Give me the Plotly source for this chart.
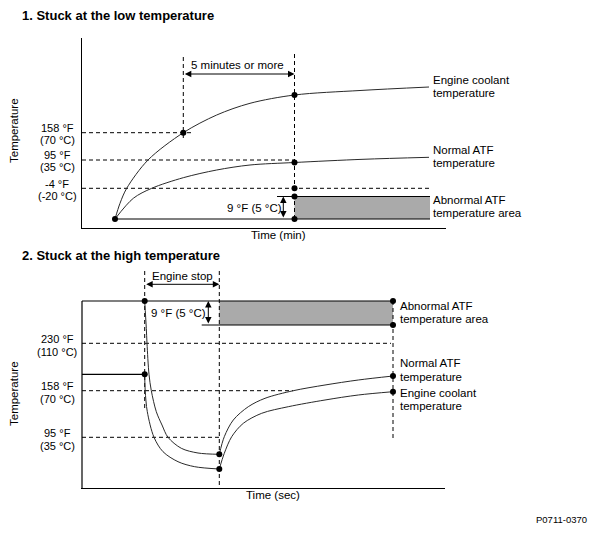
import plotly.graph_objects as go

W, H = 597, 537
FONT = "Liberation Sans, Arial, sans-serif"

# ================= Panel 1: Stuck at the low temperature =================
# diagram units: time (x) and temperature level (y)
p1_coolant_t = [3.3, 3.8, 4.47, 6.6, 10.13, 13.47, 16.8, 21.25, 27.8, 34.7]
p1_coolant_v = [0.9, 2.47, 3.97, 6.8, 9.53, 11.3, 12.47, 13.3, 13.75, 14.1]
p1_atf_t = [3.3, 5.13, 6.97, 10.13, 13.47, 16.8, 21.25, 28.1, 34.7]
p1_atf_v = [0.9, 2.97, 3.97, 5.03, 5.8, 6.3, 6.55, 6.87, 7.07]
p1_ref_levels = [9.53, 6.8, 3.97]
p1_ref_ends = [11.0, 21.25, 34.8]
p1_ref_f = ["158 °F", "95 °F", "-4 °F"]
p1_ref_c = ["(70 °C)", "(35 °C)", "(-20 °C)"]
p1_start_t, p1_base = 3.3, 0.9
p1_t70, p1_t_check, p1_t_end = 10.13, 21.25, 34.8
p1_abn_low, p1_abn_high = 0.9, 3.15
p1_top = 17.4
p1_points_t = [3.3, 10.13, 21.25, 21.25, 21.25, 21.25, 21.25]
p1_points_v = [0.9, 9.53, 13.3, 6.55, 3.97, 3.15, 0.9]

# ================= Panel 2: Stuck at the high temperature =================
p2_atf_drop_t = [6.27, 6.43, 6.5, 6.7, 6.93, 7.43, 8.0, 8.6, 9.93, 11.6, 13.73]
p2_atf_drop_v = [18.7, 15.97, 14.47, 11.37, 9.73, 7.63, 6.3, 5.07, 3.97, 3.5, 3.37]
p2_cool_drop_t = [6.27, 6.32, 6.53, 7.2, 8.1, 9.6, 11.27, 13.73]
p2_cool_drop_v = [11.37, 9.73, 7.63, 5.07, 3.63, 2.63, 2.13, 1.9]
p2_atf_rise_t = [13.73, 14.23, 15.13, 16.63, 18.3, 21.13, 24.3, 27.63, 31.1]
p2_atf_rise_v = [3.37, 5.13, 6.8, 8.13, 8.97, 9.73, 10.3, 10.8, 11.2]
p2_cool_rise_t = [13.73, 14.23, 14.97, 16.13, 17.97, 20.63, 24.3, 27.63, 31.1]
p2_cool_rise_v = [1.9, 3.47, 5.13, 6.47, 7.47, 8.13, 8.8, 9.3, 9.63]
p2_ref_levels = [14.47, 9.73, 5.07]
p2_ref_ends = [30.9, 21.13, 13.73]
p2_ref_f = ["230 °F", "158 °F", "95 °F"]
p2_ref_c = ["(110 °C)", "(70 °C)", "(35 °C)"]
p2_stop_t, p2_restart_t, p2_end_t = 6.27, 13.73, 31.1
p2_top, p2_abn_low, p2_abn_edge = 18.7, 16.3, 11.97
p2_init_level = 11.37
p2_points_t = [6.27, 6.27, 13.73, 13.73, 31.1, 31.1, 31.1, 31.1]
p2_points_v = [18.7, 11.37, 3.37, 1.9, 18.7, 16.3, 11.2, 9.63]

# axis placement (pixels) and ranges
AX = {
    "": dict(x0=82, x1=446, xr=(0, 36.4), ytop=38, ybot=228, yr=(0, 19)),
    "2": dict(x0=81, x1=445, xr=(-0.1, 36.3), ytop=270, ybot=488, yr=(0, 21.8)),
}


def to_paper(ax, x, y):
    a = AX[ax]
    px = a["x0"] + (x - a["xr"][0]) / (a["xr"][1] - a["xr"][0]) * (a["x1"] - a["x0"])
    py = a["ybot"] - (y - a["yr"][0]) / (a["yr"][1] - a["yr"][0]) * (a["ybot"] - a["ytop"])
    return px / W, 1 - py / H


fig = go.Figure()


def add_lines(xs, ys, ax, dash=None, width=1.0, color="black", shape="linear"):
    fig.add_trace(go.Scatter(
        x=xs, y=ys, xaxis="x" + ax, yaxis="y" + ax, mode="lines",
        line=dict(color=color, width=width, dash=dash, shape=shape, smoothing=0.9),
        hoverinfo="skip", showlegend=False))


def add_box(x0, x1, y0, y1, ax):
    fig.add_trace(go.Scatter(
        x=[x0, x1, x1, x0, x0], y=[y0, y0, y1, y1, y0],
        xaxis="x" + ax, yaxis="y" + ax, mode="lines", fill="toself",
        fillcolor="#aaaaaa", line=dict(width=0, color="#aaaaaa"),
        hoverinfo="skip", showlegend=False))


def join(pairs):
    xs, ys = [], []
    for px, py in pairs:
        xs += list(px) + [None]
        ys += list(py) + [None]
    return xs, ys


DASH = "4px,3px"
CURVE = "#2a2a2a"

# ---------- panel 1 ----------
add_box(p1_t_check, p1_t_end, p1_abn_low, p1_abn_high, "")
xs, ys = join([([0, e], [lv, lv]) for lv, e in zip(p1_ref_levels, p1_ref_ends)] +
              [([p1_t_check, p1_t_check], [p1_base, p1_top]),
               ([p1_t70, p1_t70], [9.0, p1_top])])
add_lines(xs, ys, "", dash=DASH, width=1)
xs, ys = join([([p1_start_t, p1_t_end], [p1_base, p1_base]),
               ([19.5, p1_t_end], [p1_abn_high, p1_abn_high])])
add_lines(xs, ys, "", width=1.2)
add_lines(p1_coolant_t, p1_coolant_v, "", width=1, color=CURVE, shape="spline")
add_lines(p1_atf_t, p1_atf_v, "", width=1, color=CURVE, shape="spline")
fig.add_trace(go.Scatter(x=p1_points_t, y=p1_points_v, xaxis="x", yaxis="y",
                         mode="markers", marker=dict(color="black", size=6),
                         hoverinfo="skip", showlegend=False))

# ---------- panel 2 ----------
add_box(p2_restart_t, p2_end_t, p2_abn_low, p2_top, "2")
xs, ys = join([([0, e], [lv, lv]) for lv, e in zip(p2_ref_levels, p2_ref_ends)] +
              [([p2_stop_t, p2_stop_t], [21.7, 8.0]),
               ([p2_restart_t, p2_restart_t], [21.7, 0]),
               ([p2_end_t, p2_end_t], [p2_top, 4.8])])
add_lines(xs, ys, "2", dash=DASH, width=1)
xs, ys = join([([0, 0], [0, p2_top]),
               ([0, p2_end_t], [p2_top, p2_top]),
               ([p2_abn_edge, p2_end_t], [p2_abn_low, p2_abn_low]),
               ([0, p2_stop_t], [p2_init_level, p2_init_level])])
add_lines(xs, ys, "2", width=1.2)
for t, v in [(p2_atf_drop_t, p2_atf_drop_v), (p2_cool_drop_t, p2_cool_drop_v),
             (p2_atf_rise_t, p2_atf_rise_v), (p2_cool_rise_t, p2_cool_rise_v)]:
    add_lines(t, v, "2", width=1, color=CURVE, shape="spline")
fig.add_trace(go.Scatter(x=p2_points_t, y=p2_points_v, xaxis="x2", yaxis="y2",
                         mode="markers", marker=dict(color="black", size=6),
                         hoverinfo="skip", showlegend=False))

ann = []


def text(x, y, s, ax=None, xanchor="center", size=11.5, bold=False, angle=0):
    # ax given -> (x, y) are diagram units of that panel; otherwise paper coords
    if ax is not None:
        x, y = to_paper(ax, x, y)
    ann.append(dict(x=x, y=y, xref="paper", yref="paper",
                    text=("<b>%s</b>" % s) if bold else s,
                    showarrow=False, xanchor=xanchor, yanchor="middle", textangle=angle,
                    font=dict(family=FONT, size=size, color="#000000")))


def arrow(x0, y0, x1, y1, ax=""):
    ann.append(dict(x=x1, y=y1, ax=x0, ay=y0, xref="x" + ax, yref="y" + ax,
                    axref="x" + ax, ayref="y" + ax, text="", showarrow=True,
                    arrowhead=2, arrowside="end+start", arrowsize=1.3,
                    arrowwidth=1, arrowcolor="black", standoff=0, startstandoff=0))


# panel 1 texts
text(20 / W, 1 - 15 / H, "1. Stuck at the low temperature", xanchor="left", size=13, bold=True)
text(14 / W, 1 - 131 / H, "Temperature", angle=-90)
for lv, f, c in zip(p1_ref_levels, p1_ref_f, p1_ref_c):
    text(-2.5, lv + 0.46, f, ax="", size=11)
    text(-2.5, lv - 0.74, c, ax="", size=11)
text(19.65, -0.7, "Time (min)", ax="")
text(15.58, 16.3, "5 minutes or more", ax="")
arrow(p1_t70, 15.4, p1_t_check, 15.4)
text(17.27, 2.03, "9 °F (5 °C)", ax="")
arrow(20.13, p1_abn_low, 20.13, p1_abn_high)
for y, s in [(14.8, "Engine coolant"), (13.53, "temperature"), (7.8, "Normal ATF"),
             (6.47, "temperature"), (2.8, "Abnormal ATF"), (1.47, "temperature area")]:
    text(34.9, y, s, ax="", xanchor="left")

# panel 2 texts
text(20 / W, 1 - 255 / H, "2. Stuck at the high temperature", xanchor="left", size=13, bold=True)
text(14 / W, 1 - 394 / H, "Temperature", angle=-90)
for lv, f, c in zip(p2_ref_levels, p2_ref_f, p2_ref_c):
    text(-2.5, lv + 0.45, f, ax="2", size=11)
    text(-2.5, lv - 0.82, c, ax="2", size=11)
text(19.1, -0.7, "Time (sec)", ax="2")
text(10.0, 21.23, "Engine stop", ax="2")
arrow(p2_stop_t, 20.37, p2_restart_t, 20.37, ax="2")
text(9.6, 17.47, "9 °F (5 °C)", ax="2")
arrow(12.63, p2_abn_low, 12.63, p2_top, ax="2")
for y, s in [(18.2, "Abnormal ATF"), (16.87, "temperature area"), (12.47, "Normal ATF"),
             (11.13, "temperature"), (9.47, "Engine coolant"), (8.2, "temperature")]:
    text(31.63, y, s, ax="2", xanchor="left")

text(589 / W, 1 - 519 / H, "P0711-0370", xanchor="right", size=9.5)

axis_common = dict(showgrid=False, zeroline=False, showticklabels=False, ticks="",
                   linecolor="black", linewidth=1.2, fixedrange=True)
a1, a2 = AX[""], AX["2"]
fig.update_layout(
    width=W, height=H, margin=dict(l=0, r=0, t=0, b=0),
    paper_bgcolor="white", plot_bgcolor="white", showlegend=False,
    font=dict(family=FONT, size=11.5, color="#000000"),
    xaxis=dict(domain=[a1["x0"] / W, a1["x1"] / W], range=list(a1["xr"]), anchor="y",
               showline=True, **axis_common),
    yaxis=dict(domain=[1 - a1["ybot"] / H, 1 - a1["ytop"] / H], range=list(a1["yr"]), anchor="x",
               showline=True, **axis_common),
    xaxis2=dict(domain=[a2["x0"] / W, a2["x1"] / W], range=list(a2["xr"]), anchor="y2",
                showline=True, **axis_common),
    yaxis2=dict(domain=[1 - a2["ybot"] / H, 1 - a2["ytop"] / H], range=list(a2["yr"]), anchor="x2",
                showline=False, **axis_common),
    annotations=ann,
)

fig.write_html("out.html", config={"displayModeBar": False},
               post_script="document.body.style.margin='0';document.body.style.overflow='hidden';")
